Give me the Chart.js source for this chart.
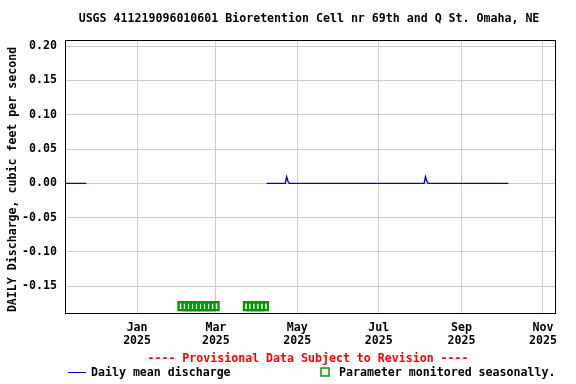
<!DOCTYPE html>
<html>
<head>
<meta charset="utf-8">
<script src="https://cdn.jsdelivr.net/npm/chart.js@4"></script>
<style>
  html, body { margin: 0; padding: 0; background: #fff; }
  #wrap { width: 576px; height: 384px; }
</style>
</head>
<body>
<div id="wrap"><canvas id="chart" width="576" height="384"></canvas></div>
<script>
// days counted from Jan 1 2025
const titleText = 'USGS 411219096010601 Bioretention Cell nr 69th and Q St. Omaha, NE';
const yAxisTitle = 'DAILY Discharge, cubic feet per second';
const xTickDays = [0, 59, 120, 181, 243, 304];
const xTickMonths = ['Jan', 'Mar', 'May', 'Jul', 'Sep', 'Nov'];
const xTickYears = ['2025', '2025', '2025', '2025', '2025', '2025'];
const yTicks = [-0.15, -0.10, -0.05, 0.00, 0.05, 0.10, 0.15, 0.20];

const dischargeDays = [-54, -38, -37, 97, 111, 112, 113, 114, 215, 216, 217, 218, 278];
const dischargeValues = [0, 0, null, 0, 0, 0.0095, 0.003, 0, 0, 0.0095, 0.003, 0, 0];

const seasonalDays = [34, 37, 40, 43, 46, 49, 52, 55, 58, 83, 86, 89, 92, 95];
const seasonalLevel = -0.179;

const FONT = '"DejaVu Sans Mono", monospace';
const fontSize = 11.6;

const textPlugin = {
    id: 'usgsText',
    afterDraw(chart) {
        const ctx = chart.ctx;
        const a = chart.chartArea;
        ctx.save();
        ctx.strokeStyle = '#000';
        ctx.lineWidth = 1;
        ctx.strokeRect(Math.round(a.left) + 0.5, Math.round(a.top) + 0.5, Math.round(a.right - a.left), Math.round(a.bottom - a.top));

        ctx.font = 'bold ' + fontSize + 'px ' + FONT;
        ctx.textBaseline = 'middle';
        ctx.fillStyle = '#000';
        ctx.textAlign = 'center';
        ctx.fillText(titleText, 309, 19);

        ctx.save();
        ctx.translate(12.5, 179.5);
        ctx.rotate(-Math.PI / 2);
        ctx.fillText(yAxisTitle, 0, 0);
        ctx.restore();

        ctx.fillStyle = '#ff0000';
        ctx.fillText('---- Provisional Data Subject to Revision ----', 308, 359);

        ctx.textAlign = 'left';
        ctx.fillStyle = '#000';
        ctx.fillText('Daily mean discharge', 91, 373);
        ctx.fillText('Parameter monitored seasonally.', 339, 373);

        ctx.strokeStyle = '#0000cc';
        ctx.beginPath();
        ctx.moveTo(68, 372.5);
        ctx.lineTo(86, 372.5);
        ctx.stroke();

        ctx.strokeStyle = '#009900';
        ctx.lineWidth = 1.5;
        ctx.strokeRect(321, 368, 8, 8);
        ctx.restore();
    }
};

new Chart(document.getElementById('chart'), {
    type: 'line',
    data: {
        datasets: [
            {
                label: 'Daily mean discharge',
                data: dischargeDays.map((d, i) => ({ x: d, y: dischargeValues[i] })),
                borderColor: '#0000cc',
                borderWidth: 1.4,
                pointRadius: 0,
                tension: 0,
                spanGaps: false
            },
            {
                label: 'Parameter monitored seasonally.',
                data: seasonalDays.map(d => ({ x: d, y: seasonalLevel })),
                showLine: false,
                pointStyle: 'rect',
                pointRadius: 5.6,
                pointBorderWidth: 2.4,
                pointBorderColor: '#009900',
                pointBackgroundColor: 'rgba(0,0,0,0)'
            }
        ]
    },
    options: {
        responsive: false,
        animation: false,
        layout: { padding: { top: 40, right: 21, bottom: 0, left: 0 } },
        plugins: { legend: { display: false }, title: { display: false }, tooltip: { enabled: false } },
        scales: {
            x: {
                type: 'linear',
                min: -54,
                max: 313,
                afterBuildTicks: (scale) => { scale.ticks = xTickDays.map(v => ({ value: v })); },
                afterFit: (scale) => { scale.height = 71; },
                grid: { color: '#cccccc', drawTicks: false },
                border: { display: false },
                ticks: {
                    autoSkip: false,
                    maxRotation: 0,
                    padding: 8,
                    color: '#000',
                    font: { family: FONT, size: fontSize, weight: 'bold', lineHeight: 1.15 },
                    callback: (v) => {
                        const i = xTickDays.indexOf(v);
                        return i < 0 ? '' : [xTickMonths[i], xTickYears[i]];
                    }
                }
            },
            y: {
                type: 'linear',
                min: -0.189,
                max: 0.209,
                afterBuildTicks: (scale) => { scale.ticks = yTicks.map(v => ({ value: v })); },
                afterFit: (scale) => { scale.width = 65; },
                grid: { color: '#cccccc', drawTicks: false },
                border: { display: false },
                ticks: {
                    padding: 8,
                    color: '#000',
                    font: { family: FONT, size: fontSize, weight: 'bold' },
                    callback: (v) => v.toFixed(2)
                }
            }
        }
    },
    plugins: [textPlugin]
});
</script>
</body>
</html>
